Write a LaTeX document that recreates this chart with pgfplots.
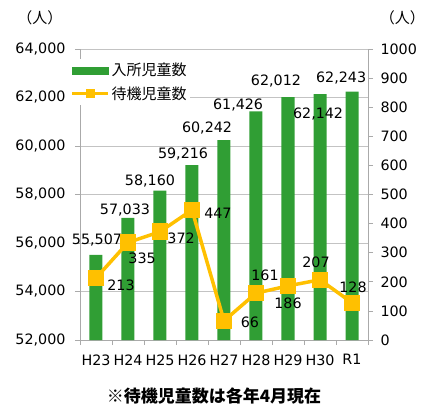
\documentclass[border=0pt]{standalone}
\usepackage{pgfplots}
\pgfplotsset{compat=1.18}
\usepackage{fontspec}
\setmainfont{DejaVu Sans}
\newfontfamily\cjk{Noto Sans CJK JP}
\definecolor{barg}{RGB}{48,158,52}
\definecolor{gold}{RGB}{255,192,0}
\definecolor{axg}{RGB}{170,170,170}
\definecolor{grd}{RGB}{195,195,195}
\pgfplotstableread{
x n w
0 55507 213
1 57033 335
2 58160 372
3 59216 447
4 60242 66
5 61426 161
6 62012 186
7 62142 207
8 62243 128
}\data
\begin{document}
\begin{tikzpicture}[font=\fontsize{14.3bp}{16bp}\selectfont]
\path[use as bounding box] (-80bp,-65bp) rectangle (345bp,340bp);
\begin{axis}[
  scale only axis, width=288bp, height=291bp,
  clip=false,
  xmin=-0.5, xmax=8.5, ymin=52000, ymax=64000,
  axis y line*=left, axis x line*=bottom,
  axis line style={axg, line width=0.8bp},
  xtick={-0.5,0.5,...,8.5},
  x tick label as interval,
  xticklabels={H23,H24,H25,H26,H27,H28,H29,H30,R1},
  ytick={52000,54000,...,64000},
  /pgf/number format/1000 sep={,},
  /pgf/number format/assume math mode=true,
  scaled y ticks=false,
  tick align=outside,
  major tick length=5bp,
  tick style={axg, line width=0.8bp},
  ymajorgrids, grid style={grd, line width=0.8bp},
  yticklabel style={xshift=-6bp},
  xticklabel style={yshift=-6bp},
]
\addplot[ybar, bar width=13bp, fill=barg, draw=none, bar shift=0pt] table[x=x,y=n]{\data};
\node at (axis cs:0.031,56124) {55,507};
\node at (axis cs:0.906,57361) {57,033};
\node at (axis cs:1.6875,58557) {58,160};
\node at (axis cs:2.72,59670) {59,216};
\node at (axis cs:3.47,60743) {60,242};
\node at (axis cs:4.44,61691) {61,426};
\node at (axis cs:5.625,62681) {62,012};
\node at (axis cs:6.94,61320) {62,142};
\node at (axis cs:7.66,62805) {62,243};
\end{axis}
\begin{axis}[
  scale only axis, width=288bp, height=291bp,
  clip=false,
  xmin=-0.5, xmax=8.5, ymin=0, ymax=1000,
  axis y line*=right, axis x line=none,
  axis line style={axg, line width=0.8bp},
  ytick={0,100,...,1000},
  /pgf/number format/1000 sep={},
  /pgf/number format/assume math mode=true,
  tick align=outside,
  major tick length=5bp,
  tick style={axg, line width=0.8bp},
  yticklabel style={xshift=4bp},
  legend style={at={(axis description cs:-0.035,0.965)}, anchor=north west,
    draw=none, fill=white, inner xsep=1bp, inner ysep=2bp,
    font=\cjk\fontsize{15bp}{17bp}\selectfont, row sep=5bp,
    legend cell align=left},
]
\addlegendimage{legend image code/.code={\fill[barg] (0bp,-3.5bp) rectangle (36bp,3.5bp);}}
\addlegendentry{入所児童数}
\addplot[gold, line width=3.5bp, mark=square*, mark size=6.5bp, mark options={gold},
  legend image code/.code={\draw[gold, line width=2.5bp] (0bp,0bp)--(36bp,0bp); \fill[gold] (15bp,-3bp) rectangle (21bp,3bp);}]
  table[x=x,y=w]{\data};
\addlegendentry{待機児童数}
\node at (axis cs:0.78,189) {213};
\node at (axis cs:1.44,282) {335};
\node at (axis cs:2.66,351) {372};
\node at (axis cs:3.81,436) {447};
\node at (axis cs:4.81,62) {66};
\node at (axis cs:5.28,223) {161};
\node at (axis cs:6.0,127) {186};
\node at (axis cs:6.875,268) {207};
\node at (axis cs:8.03,182) {128};
\end{axis}
\node[font=\cjk\fontsize{15bp}{17bp}\selectfont] at (-40bp,322bp) {（人）};
\node[font=\cjk\fontsize{15bp}{17bp}\selectfont, anchor=east, inner xsep=0pt] at (345bp,322bp) {（人）};
\node[font=\cjk\bfseries\fontsize{17bp}{19bp}\selectfont] at (134bp,-56bp) {※待機児童数は各年4月現在};
\end{tikzpicture}
\end{document}
